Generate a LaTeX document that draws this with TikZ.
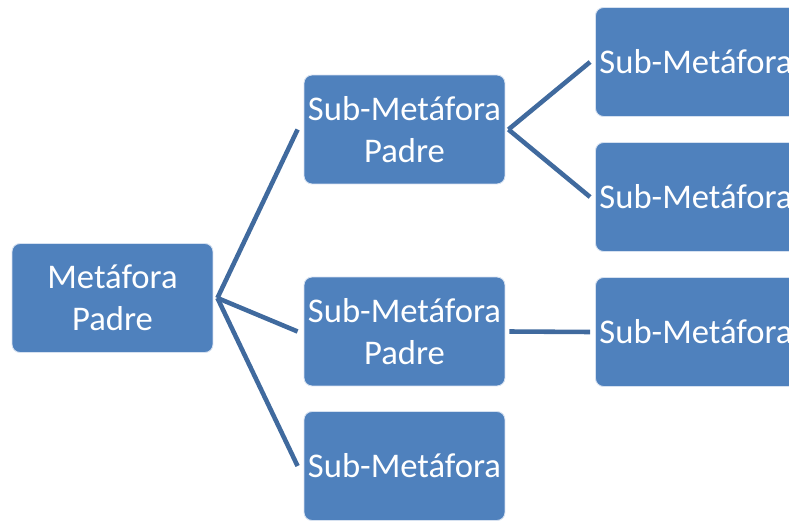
\documentclass[tikz,border=0pt]{standalone}
\usepackage{fontspec}
\setmainfont{Carlito}
\definecolor{boxblue}{RGB}{79,129,189}
\definecolor{linkblue}{RGB}{64,106,158}
\definecolor{boxedge}{RGB}{214,225,240}
\tikzset{
  metabox/.style={rectangle, rounded corners=0.16cm, fill=boxblue, draw=boxedge, line width=0.5pt,
    minimum width=4.02cm, minimum height=2.18cm, inner sep=0pt, align=center, text=white,
    font=\fontsize{19.7pt}{24pt}\selectfont},
  link/.style={draw=linkblue, line width=2.6pt}
}
\begin{document}
\begin{tikzpicture}[x=0.02cm, y=-0.02cm]
        % frame of the picture (px of the reference)
        \useasboundingbox (0,0) rectangle (789,521);
        \clip (0,0) rectangle (789,521);
        % boxes
        \node[metabox] (root) at (112.5,298)   {Metáfora\\Padre};
        \node[metabox] (subA) at (404.5,129.5) {Sub-Metáfora\\Padre};
        \node[metabox] (subB) at (404.5,331.5) {Sub-Metáfora\\Padre};
        \node[metabox] (subC) at (404.5,466)   {Sub-Metáfora};
        \node[metabox] (leafA) at (696,62)     {Sub-Metáfora};
        \node[metabox] (leafB) at (696,197)    {Sub-Metáfora};
        \node[metabox] (leafC) at (696,332)    {Sub-Metáfora};
        % joints of the connectors
        \coordinate (rootjoin) at ([xshift=0.08cm]root.east);
        \coordinate (subAjoin) at ([xshift=0.06cm]subA.east);
        % connectors
        \draw[link] (rootjoin) -- ([xshift=-0.12cm]subA.west);
        \draw[link] (rootjoin) -- ([xshift=-0.12cm]subB.west);
        \draw[link] (rootjoin) -- ([xshift=-0.12cm]subC.west);
        \draw[link] (subAjoin) -- ([xshift=-0.1cm]leafA.west);
        \draw[link] (subAjoin) -- ([xshift=-0.1cm]leafB.west);
        \draw[link] ([xshift=0.08cm]subB.east) -- ([xshift=-0.1cm]leafC.west);
      \end{tikzpicture}
\end{document}
